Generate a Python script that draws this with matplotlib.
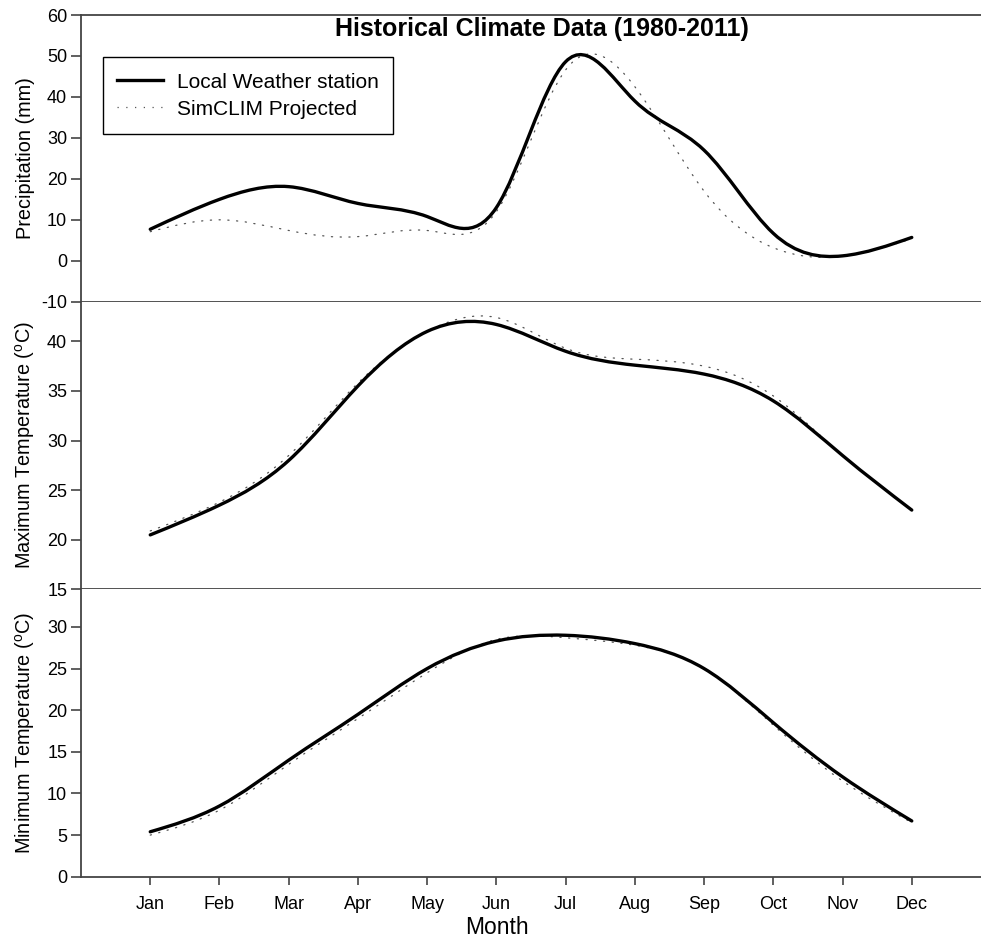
#!/usr/bin/env python3
"""
Plot monthly climate normals (1980-2011): station record vs SimCLIM projection.

Three stacked panels share the month axis:
- precipitation (mm)
- maximum temperature (deg C)
- minimum temperature (deg C)

Each series is drawn as a natural cubic spline through the monthly values,
rendered as a Bezier path so matplotlib draws the curve itself.

Outputs:
- out.png
"""

from __future__ import annotations

import matplotlib.pyplot as plt
import numpy as np
from matplotlib.lines import Line2D
from matplotlib.patches import PathPatch
from matplotlib.path import Path

MONTHS = ["Jan", "Feb", "Mar", "Apr", "May", "Jun",
          "Jul", "Aug", "Sep", "Oct", "Nov", "Dec"]

# Precipitation (mm)
PRECIP_LOCAL = [7.7, 15.0, 18.1, 14.0, 10.8, 13.0,
                48.6, 39.0, 27.0, 6.7, 1.2, 5.7]
PRECIP_SIMCLIM = [7.1, 10.0, 7.4, 5.9, 7.4, 12.0,
                  46.6, 42.5, 17.0, 3.2, 1.1, 5.4]

# Maximum temperature (deg C)
TMAX_LOCAL = [20.5, 23.5, 28.0, 35.5, 41.0, 41.7,
              39.0, 37.6, 36.7, 34.0, 28.5, 23.0]
TMAX_SIMCLIM = [20.9, 23.8, 28.5, 35.8, 41.0, 42.4,
                39.3, 38.2, 37.5, 34.5, 28.5, 23.0]

# Minimum temperature (deg C)
TMIN_LOCAL = [5.4, 8.5, 14.0, 19.5, 25.0, 28.3,
              29.0, 28.0, 25.0, 18.5, 12.0, 6.7]
TMIN_SIMCLIM = [5.0, 8.0, 13.5, 19.0, 24.5, 28.5,
                28.7, 27.8, 25.0, 18.2, 11.5, 6.5]

SPINE_COLOR = "#444444"
FONT = ["Liberation Sans", "DejaVu Sans"]


def _spline_path(x: np.ndarray, y: np.ndarray) -> Path:
    """
    Build a natural cubic spline through (x, y) as a chain of Bezier segments.
    """
    n = len(x)
    h = np.diff(x)
    # second derivatives of the natural spline
    a = np.zeros((n, n))
    b = np.zeros(n)
    a[0, 0] = a[-1, -1] = 1.0
    for i in range(1, n - 1):
        a[i, i - 1] = h[i - 1]
        a[i, i] = 2.0 * (h[i - 1] + h[i])
        a[i, i + 1] = h[i]
        b[i] = 6.0 * ((y[i + 1] - y[i]) / h[i] - (y[i] - y[i - 1]) / h[i - 1])
    m2 = np.linalg.solve(a, b)

    # first derivatives at each knot
    slope = np.zeros(n)
    for i in range(n - 1):
        slope[i] = (y[i + 1] - y[i]) / h[i] - h[i] * (2 * m2[i] + m2[i + 1]) / 6.0
    slope[-1] = (y[-1] - y[-2]) / h[-1] + h[-1] * (m2[-2] + 2 * m2[-1]) / 6.0

    verts = [(x[0], y[0])]
    codes = [Path.MOVETO]
    for i in range(n - 1):
        d = h[i] / 3.0
        verts += [(x[i] + d, y[i] + slope[i] * d),
                  (x[i + 1] - d, y[i + 1] - slope[i + 1] * d),
                  (x[i + 1], y[i + 1])]
        codes += [Path.CURVE4] * 3
    return Path(verts, codes)


LOCAL_STYLE = {"color": "black", "linewidth": 2.4, "linestyle": "-"}
SIM_STYLE = {"color": "#555555", "linewidth": 0.9, "linestyle": (0, (1, 6))}


def _draw_series(ax: plt.Axes, x: np.ndarray, y: list[float], style: dict) -> None:
    patch = PathPatch(_spline_path(x, np.asarray(y, dtype=float)),
                      facecolor="none", edgecolor=style["color"],
                      linewidth=style["linewidth"], linestyle=style["linestyle"],
                      capstyle="round", joinstyle="round")
    ax.add_patch(patch)


def _style_axes(ax: plt.Axes, top: bool, bottom: bool) -> None:
    for side in ("left", "bottom", "top"):
        ax.spines[side].set_color(SPINE_COLOR)
        ax.spines[side].set_linewidth(1.3)
    ax.spines["right"].set_visible(False)
    ax.spines["top"].set_visible(top)
    ax.tick_params(axis="y", direction="out", length=7, width=1.2,
                   color=SPINE_COLOR, labelsize=13, pad=3)
    if bottom:
        ax.tick_params(axis="x", direction="out", length=6, width=1.2,
                       color=SPINE_COLOR, labelsize=13, pad=8)
    else:
        ax.tick_params(axis="x", bottom=False, labelbottom=False)


def main() -> int:
    plt.rcParams["font.family"] = FONT
    plt.rcParams["mathtext.fontset"] = "custom"
    plt.rcParams["mathtext.rm"] = "Liberation Sans"
    plt.rcParams["mathtext.default"] = "regular"
    plt.rcParams["axes.unicode_minus"] = False

    fig = plt.figure(figsize=(9.81, 9.40), dpi=100)
    left, width = 0.0826, 0.9174
    ax_p = fig.add_axes((left, 0.679, width, 0.305))
    ax_hi = fig.add_axes((left, 0.3729, width, 0.3062))
    ax_lo = fig.add_axes((left, 0.0673, width, 0.3056))

    x = np.arange(1, len(MONTHS) + 1, dtype=float)

    panels = [
        (ax_p, PRECIP_LOCAL, PRECIP_SIMCLIM, (-10, 60), np.arange(-10, 61, 10),
         "Precipitation (mm)"),
        (ax_hi, TMAX_LOCAL, TMAX_SIMCLIM, (15, 44), np.arange(15, 41, 5),
         "Maximum Temperature ($^{o}$C)"),
        (ax_lo, TMIN_LOCAL, TMIN_SIMCLIM, (0, 34.5), np.arange(0, 31, 5),
         "Minimum Temperature ($^{o}$C)"),
    ]
    for i, (ax, local, sim, ylim, yticks, ylabel) in enumerate(panels):
        _draw_series(ax, x, sim, SIM_STYLE)
        _draw_series(ax, x, local, LOCAL_STYLE)
        ax.set_xlim(0, 13)
        ax.set_ylim(*ylim)
        ax.set_yticks(yticks)
        ax.set_ylabel(ylabel, fontsize=14.3, va="center")
        ax.yaxis.set_label_coords(-0.062, 0.5)
        _style_axes(ax, top=(i == 0), bottom=(i == 2))

    ax_lo.set_xticks(x)
    ax_lo.set_xticklabels(MONTHS)
    ax_lo.set_xlabel("Month", fontsize=16.5, va="center")
    ax_lo.xaxis.set_label_coords(0.4617, -0.178)

    ax_p.text(0.512, 0.951, "Historical Climate Data (1980-2011)",
              transform=ax_p.transAxes, ha="center", va="center",
              fontsize=18, fontweight="bold")

    handles = [
        Line2D([], [], color=LOCAL_STYLE["color"], lw=LOCAL_STYLE["linewidth"],
               ls=LOCAL_STYLE["linestyle"]),
        Line2D([], [], color=SIM_STYLE["color"], lw=SIM_STYLE["linewidth"],
               ls=SIM_STYLE["linestyle"]),
    ]
    leg = ax_p.legend(handles, ["Local Weather station", "SimCLIM Projected"],
                      loc="upper left", bbox_to_anchor=(0.024, 0.8535),
                      borderaxespad=0, fontsize=15, handlelength=2.2,
                      handleheight=1.1, handletextpad=0.7, labelspacing=0.29,
                      borderpad=0.68, fancybox=False, framealpha=1)
    leg.get_frame().set_edgecolor("black")
    leg.get_frame().set_linewidth(1.0)

    fig.savefig("out.png", dpi=100)
    plt.close(fig)
    return 0


if __name__ == "__main__":
    raise SystemExit(main())
